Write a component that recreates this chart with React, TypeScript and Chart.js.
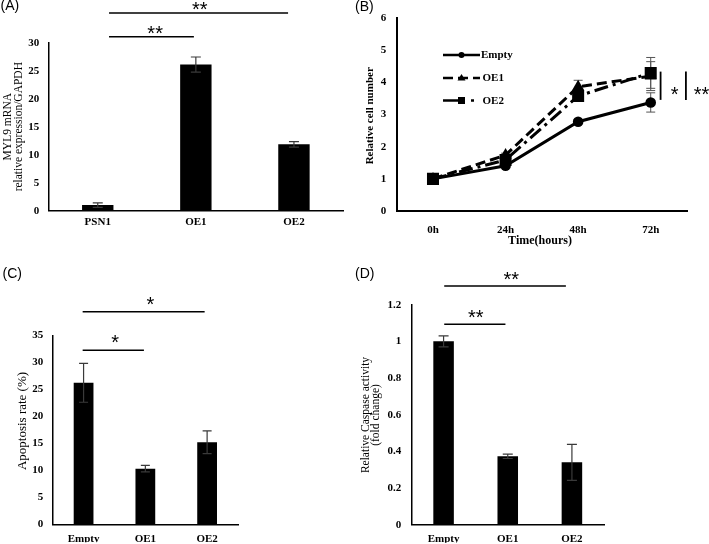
import React, { useEffect, useRef } from 'react';
import { Chart, registerables } from 'chart.js';

Chart.register(...registerables);

// ---------------- data ----------------
const catsA = ['PSN1', 'OE1', 'OE2'];
const valsA = [1.0, 26.1, 11.85];
const errA = [0.4, 1.35, 0.5];
const ticksA = [0, 5, 10, 15, 20, 25, 30];

const hoursB = ['0h', '24h', '48h', '72h'];
const emptyB = [1.0, 1.41, 2.78, 3.38];
const emptyErrB = [0.03, 0.05, 0.06, 0.3];
const oe1B = [1.0, 1.74, 3.87, 4.2];
const oe1ErrB = [0.03, 0.06, 0.2, 0.45];
const oe2B = [1.0, 1.59, 3.58, 4.3];
const oe2ErrB = [0.03, 0.05, 0.12, 0.48];
const ticksB = [0, 1, 2, 3, 4, 5, 6];
const seriesNamesB = ['Empty', 'OE1', 'OE2'];

const catsC = ['Empty', 'OE1', 'OE2'];
const valsC = [26.2, 10.3, 15.2];
const errC = [3.6, 0.6, 2.1];
const ticksC = [0, 5, 10, 15, 20, 25, 30, 35];

const catsD = ['Empty', 'OE1', 'OE2'];
const valsD = [1.0, 0.373, 0.34];
const errD = [0.03, 0.012, 0.098];
const ticksD = [0, 0.2, 0.4, 0.6, 0.8, 1, 1.2];

// significance brackets (category positions / data levels)
const sigA = [
  { from: 0.115, to: 0.98, level: 31.07, text: '**', at: 0.585 },
  { from: 0.115, to: 1.94, level: 35.3, text: '**', at: 1.04 },
];
const sigC = [
  { from: -0.015, to: 0.977, level: 32.22, text: '*', at: 0.51 },
  { from: -0.015, to: 1.96, level: 39.37, text: '*', at: 1.08 },
];
const sigD = [
  { from: 0.01, to: 0.964, level: 1.093, text: '**', at: 0.5 },
  { from: 0.01, to: 1.906, level: 1.302, text: '**', at: 1.055 },
];
const sigB = [
  { at: 3.136, low: 3.46, high: 4.34, text: '*', textAt: 3.33, textLevel: 3.78 },
  { at: 3.485, low: 3.46, high: 4.34, text: '**', textAt: 3.7, textLevel: 3.78 },
];

const yTitleA = ['MYL9 mRNA', 'relative expression/GAPDH'];
const yTitleB = 'Relative cell number';
const xTitleB = 'Time(hours)';
const yTitleC = 'Apoptosis rate (%)';
const yTitleD = ['Relative Caspase activity', '(fold change)'];

// ---------------- styling / geometry ----------------
const SERIF = "'Liberation Serif', 'Times New Roman', Times, serif";
const SANS = "'Liberation Sans', Arial, Helvetica, sans-serif";

type Box = { left: number; top: number; width: number; height: number };
type Geom = {
  box: Box;
  area: { left: number; top: number; right: number; bottom: number };
  xAxisH: number;
  xPad: number;
  yPad: number;
  axisW: number;
};

const geomA: Geom = { box: { left: 0, top: 0, width: 354, height: 262 }, area: { left: 48.7, top: 42.7, right: 343, bottom: 210.7 }, xAxisH: 30, xPad: 6, yPad: 9.5, axisW: 1.5 };
const geomB: Geom = { box: { left: 354, top: 0, width: 355, height: 262 }, area: { left: 396.7, top: 18.3, right: 687, bottom: 211 }, xAxisH: 40, xPad: 13.5, yPad: 10.5, axisW: 2 };
const geomC: Geom = { box: { left: 0, top: 262, width: 354, height: 282 }, area: { left: 52.7, top: 335.3, right: 238, bottom: 524.3 }, xAxisH: 18, xPad: 9, yPad: 9.4, axisW: 1.5 };
const geomD: Geom = { box: { left: 354, top: 262, width: 355, height: 282 }, area: { left: 411.5, top: 304.7, right: 604, bottom: 524.7 }, xAxisH: 18, xPad: 8.5, yPad: 10.3, axisW: 1.5 };

function layoutPadding(g: Geom) {
  return {
    left: 0,
    top: g.area.top - g.box.top,
    right: g.box.left + g.box.width - g.area.right,
    bottom: g.box.top + g.box.height - g.area.bottom - g.xAxisH,
  };
}

const tickFont = { family: SERIF, size: 11, weight: 'bold' as const, lineHeight: 1 };

function scalesFor(g: Geom, tickVals: number[], offset: boolean) {
  return {
    x: {
      type: 'category' as const,
      offset,
      grid: { display: false, drawTicks: false },
      border: { display: true, color: '#000', width: g.axisW },
      ticks: { color: '#000', font: tickFont, padding: g.xPad, maxRotation: 0, autoSkip: false },
      afterFit: (s: any) => { s.height = g.xAxisH; },
    },
    y: {
      type: 'linear' as const,
      min: tickVals[0],
      max: tickVals[tickVals.length - 1],
      grid: { display: false, drawTicks: false },
      border: { display: true, color: '#000', width: g.axisW },
      ticks: { color: '#000', font: tickFont, padding: g.yPad, callback: (v: any) => String(v) },
      afterBuildTicks: (s: any) => { s.ticks = tickVals.map((v) => ({ value: v })); },
      afterFit: (s: any) => { s.width = g.area.left - g.box.left; },
    },
  };
}

// ---------------- drawing helpers ----------------
function vText(ctx: CanvasRenderingContext2D, text: string, x: number, y: number, font: string) {
  ctx.save();
  ctx.translate(x, y);
  ctx.rotate(-Math.PI / 2);
  ctx.font = font;
  ctx.textAlign = 'center';
  ctx.textBaseline = 'middle';
  ctx.fillStyle = '#000';
  ctx.fillText(text, 0, 0);
  ctx.restore();
}

function hText(ctx: CanvasRenderingContext2D, text: string, x: number, y: number, font: string, align: CanvasTextAlign = 'center', baseline: CanvasTextBaseline = 'middle') {
  ctx.font = font;
  ctx.textAlign = align;
  ctx.textBaseline = baseline;
  ctx.fillStyle = '#000';
  ctx.fillText(text, x, y);
}

const STAR_SIZE = 20;
function drawStars(ctx: CanvasRenderingContext2D, text: string, cx: number, cy: number) {
  hText(ctx, text, cx, cy + 0.573 * STAR_SIZE, `${STAR_SIZE}px ${SANS}`, 'center', 'alphabetic');
}

function panelLabel(ctx: CanvasRenderingContext2D, text: string, x: number, baseline: number) {
  hText(ctx, text, x, baseline, `14px ${SANS}`, 'left', 'alphabetic');
}

function drawHBrackets(chart: any, ctx: CanvasRenderingContext2D, list: typeof sigA, gap: number) {
  const xs = chart.scales.x;
  const ys = chart.scales.y;
  ctx.save();
  ctx.strokeStyle = '#000';
  ctx.lineWidth = 1.5;
  list.forEach((b) => {
    const y = ys.getPixelForValue(b.level);
    ctx.beginPath();
    ctx.moveTo(xs.getPixelForValue(b.from), y);
    ctx.lineTo(xs.getPixelForValue(b.to), y);
    ctx.stroke();
    drawStars(ctx, b.text, xs.getPixelForValue(b.at), y - gap);
  });
  ctx.restore();
}

function errorBars(errs: number[][], opts: { color: string; cap: number; width: number; before?: boolean }) {
  const draw = (chart: any) => {
    const ctx: CanvasRenderingContext2D = chart.ctx;
    const ys = chart.scales.y;
    ctx.save();
    ctx.strokeStyle = opts.color;
    ctx.lineWidth = opts.width;
    errs.forEach((e, di) => {
      const meta = chart.getDatasetMeta(di);
      const data = chart.data.datasets[di].data as number[];
      meta.data.forEach((el: any, i: number) => {
        const x = el.x;
        const yTop = ys.getPixelForValue(data[i] + e[i]);
        const yBot = ys.getPixelForValue(data[i] - e[i]);
        ctx.beginPath();
        ctx.moveTo(x, yTop);
        ctx.lineTo(x, yBot);
        ctx.moveTo(x - opts.cap, yTop);
        ctx.lineTo(x + opts.cap, yTop);
        ctx.moveTo(x - opts.cap, yBot);
        ctx.lineTo(x + opts.cap, yBot);
        ctx.stroke();
      });
    });
    ctx.restore();
  };
  return opts.before
    ? { id: 'errorBars', beforeDatasetsDraw: draw }
    : { id: 'errorBars', afterDatasetsDraw: draw };
}

function decor(box: Box, fixed: (ctx: CanvasRenderingContext2D) => void, scaled?: (chart: any, ctx: CanvasRenderingContext2D) => void) {
  return {
    id: 'decor',
    afterDraw(chart: any) {
      const ctx: CanvasRenderingContext2D = chart.ctx;
      ctx.save();
      ctx.translate(-box.left, -box.top);
      fixed(ctx);
      ctx.restore();
      if (scaled) {
        ctx.save();
        scaled(chart, ctx);
        ctx.restore();
      }
    },
  };
}

function barConfig(g: Geom, cats: string[], vals: number[], errs: number[], ticks: number[], cap: number, plugins: any[]) {
  return {
    type: 'bar' as const,
    data: {
      labels: cats,
      datasets: [{ data: vals, backgroundColor: '#000', borderWidth: 0, barPercentage: 0.32, categoryPercentage: 1 }],
    },
    options: {
      responsive: false,
      animation: false as const,
      layout: { padding: layoutPadding(g) },
      plugins: { legend: { display: false }, tooltip: { enabled: false }, title: { display: false } },
      scales: scalesFor(g, ticks, true),
    },
    plugins: [errorBars([errs], { color: '#3a3a3a', cap, width: 1.2 }), ...plugins],
  };
}

// ---------------- panel configs ----------------
function configA() {
  return barConfig(geomA, catsA, valsA, errA, ticksA, 5, [
    decor(geomA.box, (ctx) => {
      panelLabel(ctx, '(A)', 0.5, 10.3);
      vText(ctx, yTitleA[0], 8, 126.7, `11.5px ${SERIF}`);
      vText(ctx, yTitleA[1], 19, 126.7, `11.5px ${SERIF}`);
    }, (chart, ctx) => drawHBrackets(chart, ctx, sigA, 8.4)),
  ]);
}

function configC() {
  return barConfig(geomC, catsC, valsC, errC, ticksC, 4.5, [
    decor(geomC.box, (ctx) => {
      panelLabel(ctx, '(C)', 2.5, 277.7);
      vText(ctx, yTitleC, 22.5, 421, `13px ${SERIF}`);
    }, (chart, ctx) => drawHBrackets(chart, ctx, sigC, 12.5)),
  ]);
}

function configD() {
  return barConfig(geomD, catsD, valsD, errD, ticksD, 5, [
    decor(geomD.box, (ctx) => {
      panelLabel(ctx, '(D)', 355, 277.7);
      vText(ctx, yTitleD[0], 366, 415, `11.5px ${SERIF}`);
      vText(ctx, yTitleD[1], 376, 415, `11.5px ${SERIF}`);
    }, (chart, ctx) => drawHBrackets(chart, ctx, sigD, 11.4)),
  ]);
}

function legendB(ctx: CanvasRenderingContext2D) {
  const x0 = 443;
  const x1 = 480;
  const rows = [55, 78, 100.5];
  const dashes = [[], [10, 5], [20, 8, 3, 20]];
  const textX = [481, 482.5, 482.5];
  rows.forEach((y, i) => {
    ctx.save();
    ctx.strokeStyle = '#000';
    ctx.fillStyle = '#000';
    ctx.lineWidth = 2.5;
    ctx.setLineDash(dashes[i]);
    ctx.beginPath();
    ctx.moveTo(x0, y);
    ctx.lineTo(x1, y);
    ctx.stroke();
    ctx.setLineDash([]);
    const mx = 461.5;
    ctx.beginPath();
    if (i === 0) {
      ctx.arc(mx, y, 3, 0, Math.PI * 2);
    } else if (i === 1) {
      ctx.moveTo(mx, y - 4);
      ctx.lineTo(mx + 4, y + 2.5);
      ctx.lineTo(mx - 4, y + 2.5);
      ctx.closePath();
    } else {
      ctx.rect(mx - 3.5, y - 3.5, 7, 7);
    }
    ctx.fill();
    ctx.restore();
    hText(ctx, seriesNamesB[i], textX[i], y + 0.5, `bold 11px ${SERIF}`, 'left', 'middle');
  });
}

function configB() {
  const g = geomB;
  const common = { borderColor: '#000', backgroundColor: '#000', pointBackgroundColor: '#000', pointBorderColor: '#000', pointBorderWidth: 0, borderWidth: 3, tension: 0, fill: false };
  return {
    type: 'line' as const,
    data: {
      labels: hoursB,
      datasets: [
        { ...common, label: seriesNamesB[0], data: emptyB, pointStyle: 'circle', pointRadius: 5.3, order: 2 },
        { ...common, label: seriesNamesB[1], data: oe1B, pointStyle: 'triangle', pointRadius: 7, borderDash: [10, 5], order: 1 },
        { ...common, label: seriesNamesB[2], data: oe2B, pointStyle: 'rect', pointRadius: 8.5, borderDash: [14, 5, 3, 5], order: 0 },
      ],
    },
    options: {
      responsive: false,
      animation: false as const,
      layout: { padding: layoutPadding(g) },
      plugins: { legend: { display: false }, tooltip: { enabled: false }, title: { display: false } },
      scales: scalesFor(g, ticksB, true),
    },
    plugins: [
      errorBars([emptyErrB, oe1ErrB, oe2ErrB], { color: '#555', cap: 4.5, width: 1, before: true }),
      decor(g.box, (ctx) => {
        panelLabel(ctx, '(B)', 355, 11);
        vText(ctx, yTitleB, 370, 115.8, `bold 11px ${SERIF}`);
        hText(ctx, xTitleB, 540, 240.7, `bold 12px ${SERIF}`);
        legendB(ctx);
      }, (chart, ctx) => {
        const xs = chart.scales.x;
        const ys = chart.scales.y;
        ctx.strokeStyle = '#000';
        ctx.lineWidth = 1.8;
        sigB.forEach((s) => {
          const x = xs.getPixelForValue(s.at);
          ctx.beginPath();
          ctx.moveTo(x, ys.getPixelForValue(s.high));
          ctx.lineTo(x, ys.getPixelForValue(s.low));
          ctx.stroke();
          drawStars(ctx, s.text, xs.getPixelForValue(s.textAt), ys.getPixelForValue(s.textLevel));
        });
      }),
    ],
  };
}

// ---------------- components ----------------
function Panel({ geom, make }: { geom: Geom; make: () => any }) {
  const ref = useRef<HTMLCanvasElement>(null);
  useEffect(() => {
    if (!ref.current) return;
    const chart = new Chart(ref.current, make());
    return () => chart.destroy();
  }, []);
  const b = geom.box;
  return (
    <canvas
      ref={ref}
      width={b.width}
      height={b.height}
      style={{ position: 'absolute', left: b.left, top: b.top, width: b.width, height: b.height }}
    />
  );
}

export default function App() {
  return (
    <div style={{ position: 'absolute', left: 0, top: 0, width: 709, height: 544, background: '#fff', overflow: 'hidden' }}>
      <Panel geom={geomA} make={configA} />
      <Panel geom={geomB} make={configB} />
      <Panel geom={geomC} make={configC} />
      <Panel geom={geomD} make={configD} />
    </div>
  );
}
